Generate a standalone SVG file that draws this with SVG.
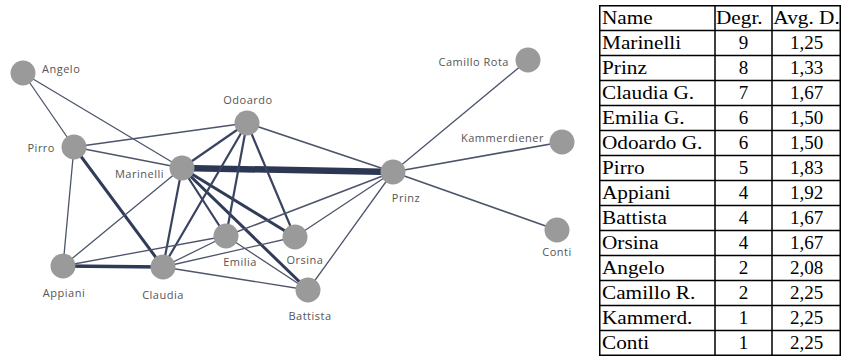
<svg xmlns="http://www.w3.org/2000/svg" width="843" height="361" viewBox="0 0 843 361">
<style>
.e{stroke:#4d556c;stroke-width:1.3;fill:none;stroke-linecap:round}
.m{stroke:#3a4460;stroke-width:2.2}
.t{stroke:#313c58;stroke-width:3}
.n{fill:#9a9a9a}
.l{font-family:"Open Sans","DejaVu Sans",sans-serif;font-size:11px;fill:#555;letter-spacing:0.5px}
.c{text-anchor:middle}
.r{text-anchor:end}
.tb{font-family:"Liberation Serif","Times New Roman",serif;font-size:19px;fill:#000}
.grid{stroke:#000;stroke-width:1.5;fill:none}
</style>
<rect width="843" height="361" fill="#fff"/>
<g id="connectors">
<line class="e" x1="23" y1="73" x2="74" y2="147"/>
<line class="e" x1="23" y1="73" x2="182" y2="168"/>
<line class="e" x1="74" y1="147" x2="247" y2="123" style="stroke-width:1.7"/>
<line class="e" x1="74" y1="147" x2="182" y2="168"/>
<line class="e" x1="74" y1="147" x2="63" y2="266"/>
<line class="e t" x1="74" y1="147" x2="163" y2="267"/>
<line class="e" x1="182" y1="168" x2="393" y2="172" style="stroke:#2c3754;stroke-width:6.5"/>
<line class="e m" x1="182" y1="168" x2="247" y2="123"/>
<line class="e" x1="182" y1="168" x2="63" y2="266"/>
<line class="e m" x1="182" y1="168" x2="163" y2="267"/>
<line class="e m" x1="182" y1="168" x2="226" y2="236"/>
<line class="e t" x1="182" y1="168" x2="295" y2="237"/>
<line class="e t" x1="182" y1="168" x2="308" y2="290"/>
<line class="e" x1="247" y1="123" x2="393" y2="172" style="stroke-width:1.6"/>
<line class="e m" x1="247" y1="123" x2="163" y2="267"/>
<line class="e m" x1="247" y1="123" x2="226" y2="236"/>
<line class="e m" x1="247" y1="123" x2="295" y2="237"/>
<line class="e" x1="393" y1="172" x2="528" y2="60"/>
<line class="e" x1="393" y1="172" x2="562" y2="142" style="stroke-width:1.7"/>
<line class="e" x1="393" y1="172" x2="557" y2="230" style="stroke-width:1.7"/>
<line class="e" x1="393" y1="172" x2="226" y2="236" style="stroke-width:1.6"/>
<line class="e" x1="393" y1="172" x2="295" y2="237"/>
<line class="e" x1="393" y1="172" x2="308" y2="290"/>
<line class="e" x1="63" y1="266" x2="163" y2="267" style="stroke:#2f3a56;stroke-width:3.5"/>
<line class="e" x1="163" y1="267" x2="226" y2="236"/>
<line class="e" x1="163" y1="267" x2="295" y2="237"/>
<line class="e" x1="163" y1="267" x2="308" y2="290"/>
<line class="e" x1="63" y1="266" x2="226" y2="236"/>
<line class="e" x1="226" y1="236" x2="308" y2="290"/>
</g>
<g id="angelo"><circle class="n" cx="23" cy="73" r="12.5"/><text class="l" x="42" y="73">Angelo</text></g>
<g id="pirro"><circle class="n" cx="74" cy="147" r="12.5"/><text class="l r" x="55" y="152">Pirro</text></g>
<g id="marinelli"><circle class="n" cx="182" cy="168" r="12.5"/><text class="l r" x="164" y="178">Marinelli</text></g>
<g id="odoardo"><circle class="n" cx="247" cy="123" r="12.5"/><text class="l c" x="248" y="104">Odoardo</text></g>
<g id="prinz"><circle class="n" cx="393" cy="172" r="12.5"/><text class="l c" x="406" y="202">Prinz</text></g>
<g id="camillo"><circle class="n" cx="528" cy="60" r="12.5"/><text class="l r" x="509" y="66">Camillo Rota</text></g>
<g id="kammerdiener"><circle class="n" cx="562" cy="142" r="12.5"/><text class="l r" x="544" y="142">Kammerdiener</text></g>
<g id="conti"><circle class="n" cx="557" cy="230" r="12.5"/><text class="l c" x="557" y="256">Conti</text></g>
<g id="emilia"><circle class="n" cx="226" cy="236" r="12.5"/><text class="l c" x="240" y="266">Emilia</text></g>
<g id="orsina"><circle class="n" cx="295" cy="237" r="12.5"/><text class="l c" x="305" y="264">Orsina</text></g>
<g id="appiani"><circle class="n" cx="63" cy="266" r="12.5"/><text class="l c" x="64" y="297">Appiani</text></g>
<g id="claudia"><circle class="n" cx="163" cy="267" r="12.5"/><text class="l c" x="163" y="299">Claudia</text></g>
<g id="battista"><circle class="n" cx="308" cy="290" r="12.5"/><text class="l c" x="310" y="320">Battista</text></g>
<g id="table">
<rect class="grid" x="599.75" y="5.75" width="240.5" height="349.5"/>
<path class="grid" d="M715 5v351M772 5v351M599 30.5h242M599 55.5h242M599 80.5h242M599 105.5h242M599 130.5h242M599 155.5h242M599 180.5h242M599 205.5h242M599 230.5h242M599 255.5h242M599 280.5h242M599 305.5h242M599 330.5h242"/>
<g class="tb" transform="translate(602,0) scale(1.12,1)">
<text x="0" y="24">Name</text><text x="101.8" y="24">Degr.</text><text x="153" y="24">Avg. D.</text>
<text x="0" y="49">Marinelli</text>
<text x="0" y="74">Prinz</text>
<text x="0" y="99">Claudia G.</text>
<text x="0" y="124">Emilia G.</text>
<text x="0" y="149">Odoardo G.</text>
<text x="0" y="174">Pirro</text>
<text x="0" y="199">Appiani</text>
<text x="0" y="224">Battista</text>
<text x="0" y="249">Orsina</text>
<text x="0" y="274">Angelo</text>
<text x="0" y="299">Camillo R.</text>
<text x="0" y="324">Kammerd.</text>
<text x="0" y="349">Conti</text>
</g>
<g class="tb" text-anchor="middle">
<text x="743.5" y="49">9</text>
<text x="743.5" y="74">8</text>
<text x="743.5" y="99">7</text>
<text x="743.5" y="124">6</text>
<text x="743.5" y="149">6</text>
<text x="743.5" y="174">5</text>
<text x="743.5" y="199">4</text>
<text x="743.5" y="224">4</text>
<text x="743.5" y="249">4</text>
<text x="743.5" y="274">2</text>
<text x="743.5" y="299">2</text>
<text x="743.5" y="324">1</text>
<text x="743.5" y="349">1</text>
<text x="806.5" y="49">1,25</text>
<text x="806.5" y="74">1,33</text>
<text x="806.5" y="99">1,67</text>
<text x="806.5" y="124">1,50</text>
<text x="806.5" y="149">1,50</text>
<text x="806.5" y="174">1,83</text>
<text x="806.5" y="199">1,92</text>
<text x="806.5" y="224">1,67</text>
<text x="806.5" y="249">1,67</text>
<text x="806.5" y="274">2,08</text>
<text x="806.5" y="299">2,25</text>
<text x="806.5" y="324">2,25</text>
<text x="806.5" y="349">2,25</text>
</g>
</g>
</svg>
